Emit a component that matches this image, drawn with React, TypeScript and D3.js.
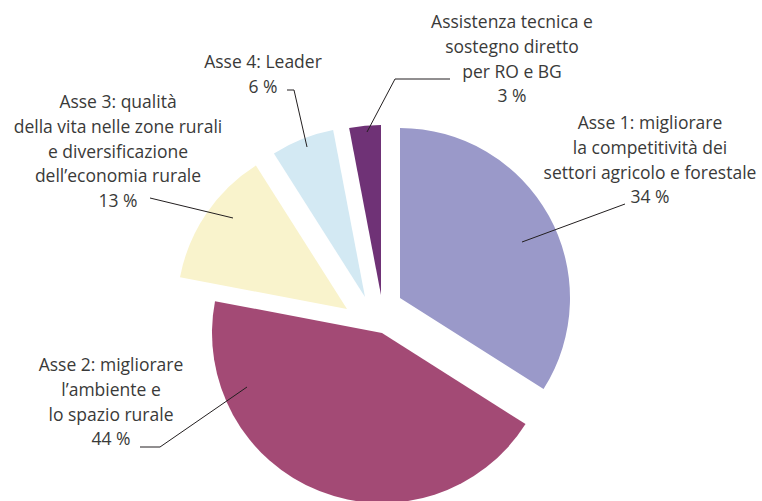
import * as d3 from "d3";
import { useEffect, useRef } from "react";

// shares of the programme budget, clockwise from 12 o'clock
const shareLabels = [
  ["Asse 1: migliorare", "la competitività dei", "settori agricolo e forestale"],
  ["Asse 2: migliorare", "l’ambiente e", "lo spazio rurale"],
  ["Asse 3: qualità", "della vita nelle zone rurali", "e diversificazione", "dell’economia rurale"],
  ["Asse 4: Leader"],
  ["Assistenza tecnica e", "sostegno diretto", "per RO e BG"],
];
const shareValues = [34, 44, 13, 6, 3];
const sliceColors = ["#9a99c9", "#a34a75", "#f9f3cc", "#d3e9f3", "#6f3276"];

const W = 762;
const H = 501;

export default function App() {
  const ref = useRef<SVGSVGElement>(null);

  useEffect(() => {
    document.body.style.margin = "0";
    const svg = d3.select(ref.current);
    svg.selectAll("*").remove();

    const r = 170;
    const cx = 380,
      cy = 312;
    // each slice was pulled out by hand in the original
    const explode = [
      [20, -14],
      [2, 21],
      [-33, -3],
      [-15, -15],
      [1, -17],
    ];

    const pie = d3.pie<number>().sort(null).value((d) => d);
    const arc = d3.arc<d3.PieArcDatum<number>>().innerRadius(0).outerRadius(r);

    svg
      .append("g")
      .selectAll("path")
      .data(pie(shareValues))
      .enter()
      .append("path")
      .attr("transform", (d, i) => `translate(${cx + explode[i][0]},${cy + explode[i][1]})`)
      .attr("d", (d) => arc(d))
      .attr("fill", (d, i) => sliceColors[i]);

    // label boxes: centre x, first line y
    const labelPos = [
      [650, 123],
      [111, 365],
      [118, 102],
      [263, 62],
      [512, 22],
    ];
    const lineH = 24.6;

    const leaders = [
      [[522, 242], [625, 204]],
      [[140, 447], [160, 447], [247, 387]],
      [[150, 198], [233, 218]],
      [[287, 90], [294, 90], [307, 147]],
      [[450, 79], [395, 79], [367, 132]],
    ];

    const line = d3.line();
    svg
      .append("g")
      .selectAll("path")
      .data(leaders)
      .enter()
      .append("path")
      .attr("d", (d) => line(d as [number, number][]))
      .attr("fill", "none")
      .attr("stroke", "#231f20")
      .attr("stroke-width", 1);

    const labels = svg
      .append("g")
      .attr("font-family", "'Open Sans', sans-serif")
      .attr("font-size", 17.5)
      .attr("fill", "#3a3a39")
      .attr("text-anchor", "middle");

    shareLabels.forEach((lines, i) => {
      const all = [...lines, `${shareValues[i]} %`];
      const t = labels.append("text");
      all.forEach((s, j) => {
        t.append("tspan")
          .attr("x", labelPos[i][0])
          .attr("y", labelPos[i][1] + j * lineH)
          .attr("dy", "0.36em")
          .text(s);
      });
    });
  }, []);

  return <svg ref={ref} width={W} height={H} style={{ display: "block", background: "#fff" }} />;
}
